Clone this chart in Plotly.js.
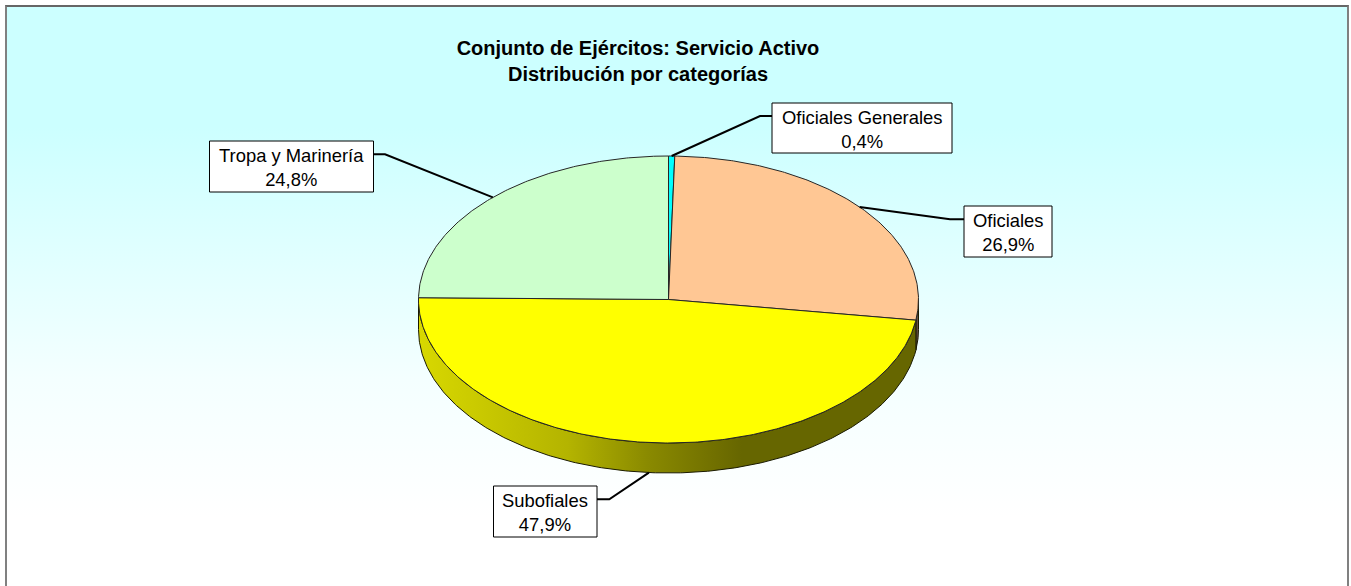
<!DOCTYPE html>
<html><head><meta charset="utf-8">
<script src="https://cdn.plot.ly/plotly-3.0.1.min.js"></script>
<style>
html,body{margin:0;padding:0;background:#fff;overflow:hidden;width:1351px;height:586px}
#bg{position:absolute;left:5px;top:5px;width:1340px;height:600px;box-sizing:content-box;border-left:2px solid #808080;border-top:2px solid #666;border-right:2px solid #808080;
background:linear-gradient(to bottom,#ccffff 0%,#ccffff 20%,#f4ffff 62%,#ffffff 85%,#ffffff 100%)}
#chart{position:absolute;left:0;top:0;width:1351px;height:586px}
</style></head><body>
<div id="bg"></div><div id="chart"></div>
<script>
// Data
const titleLines = ['Conjunto de Ejércitos: Servicio Activo','Distribución por categorías'];
const categories = ['Oficiales Generales','Oficiales','Subofiales','Tropa y Marinería'];
const shares = [0.4,26.9,47.9,24.8];

// Styles
const topColors = ['#00ffff','#ffc794','#ffff00','#ccffcc'];
const sideColors = ['#006666','#665040',null,'#526652'];
const sideGradient = [[0,'#d8d800'],[0.3,'#b4b400'],[0.46,'#8a8a00'],[0.6,'#706f00'],[0.65,'#666600'],[1,'#666600']];

// Layout geometry: one data unit = the pie's horizontal radius
const W=1351,H=586,CX=668.5,CY=299.5,RX=250,TILT=143.5/250,DEPTH=30/250;
const toX=p=>(p-CX)/RX, toY=p=>(CY-p)/RX;
const boxes=[ // label box edges and elbow of the leader line (page pixels)
 {l:772,r:952,t:103,b:153,ex:760,ey:116,px:772},
 {l:964,r:1052,t:206,b:257,ex:950,ey:219.3,px:964},
 {l:493.5,r:597,t:486,b:537,ex:609.3,ey:499.3,px:597},
 {l:209.5,r:373.5,t:141,b:192,ex:385,ey:154.3,px:373.5}
];

const total=shares.reduce((a,b)=>a+b,0);
const rim=t=>[Math.sin(t),TILT*Math.cos(t)];
function arc(a,b){const n=Math.max(2,Math.ceil(Math.abs(b-a)/0.01));const o=[];for(let i=0;i<=n;i++)o.push(a+(b-a)*i/n);return o;}
const traces=[],labels=[],labelBoxes=[];
let cum=0;const spans=shares.map(v=>{const s=[cum/total*2*Math.PI,(cum+v)/total*2*Math.PI];cum+=v;return s;});

// side wall (only the front half of the rim is visible)
spans.forEach((s,i)=>{
  const a=Math.max(s[0],Math.PI/2),b=Math.min(s[1],1.5*Math.PI);
  if(b<=a)return;
  const ts=arc(a,b);
  const xs=ts.map(t=>rim(t)[0]),ys=ts.map(t=>rim(t)[1]);
  const x=xs.concat(xs.slice().reverse(),[xs[0]]);
  const y=ys.concat(ys.slice().reverse().map(v=>v-DEPTH),[ys[0]]);
  const tr={type:'scatter',mode:'lines',x,y,fill:'toself',line:{color:'#1a1a00',width:1},hoverinfo:'skip'};
  if(sideColors[i])tr.fillcolor=sideColors[i];
  else tr.fillgradient={type:'horizontal',colorscale:sideGradient};
  traces.push(tr);
});
// top wedges
spans.forEach((s,i)=>{
  const ts=arc(s[0],s[1]);
  const x=[0].concat(ts.map(t=>rim(t)[0]),[0]);
  const y=[0].concat(ts.map(t=>rim(t)[1]),[0]);
  traces.push({type:'scatter',mode:'lines',x,y,fill:'toself',fillcolor:topColors[i],line:{color:'#262626',width:1},hoverinfo:'skip'});
});
// leader lines + labels
spans.forEach((s,i)=>{
  const mid=(s[0]+s[1])/2,p=rim(mid),b=boxes[i];
  const front=Math.cos(mid)<0&&i===2;
  traces.push({type:'scatter',mode:'lines',
    x:[p[0],toX(b.ex),toX(b.px)],
    y:[p[1]-(front?DEPTH:0),toY(b.ey),toY(b.ey)],
    line:{color:'#000',width:2},hoverinfo:'skip'});
  labelBoxes.push({type:'rect',xref:'x',yref:'y',layer:'above',x0:toX(b.l),x1:toX(b.r),y0:toY(b.t),y1:toY(b.b),
    line:{color:'#000',width:1},fillcolor:'#fff'});
  labels.push({xref:'x',yref:'y',x:toX((b.l+b.r)/2),y:toY((b.t+b.b)/2+1),xanchor:'center',yanchor:'middle',
    text:categories[i]+'<br>'+shares[i].toFixed(1).replace('.',',')+'%',showarrow:false,
    borderpad:0,borderwidth:0,align:'center',valign:'middle',
    font:{family:'"Liberation Sans",Arial,sans-serif',size:18.4,color:'#000'}});
});

const layout={
  width:W,height:H,margin:{l:0,r:0,t:0,b:0},
  paper_bgcolor:'rgba(0,0,0,0)',plot_bgcolor:'rgba(0,0,0,0)',showlegend:false,
  title:{text:titleLines.join('<br>'),x:638/W,xanchor:'center',y:1-54.5/H,yanchor:'middle',
    font:{family:'"Liberation Sans",Arial,sans-serif',size:20,color:'#000',weight:'bold'}},
  xaxis:{range:[toX(0),toX(W)],visible:false,fixedrange:true},
  yaxis:{range:[toY(H),toY(0)],visible:false,fixedrange:true},
  shapes:labelBoxes,
  annotations:labels
};
Plotly.newPlot('chart',traces,layout,{displayModeBar:false,staticPlot:true});
</script>
</body></html>
